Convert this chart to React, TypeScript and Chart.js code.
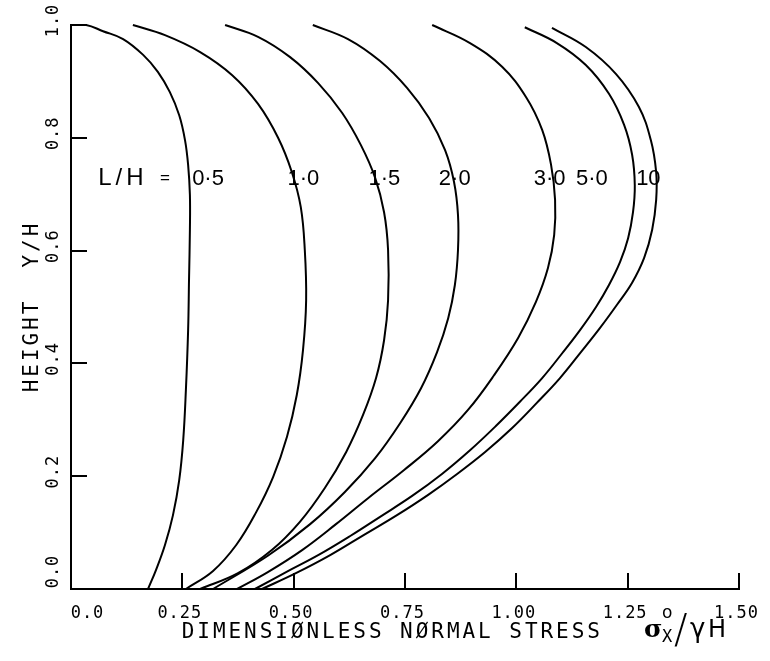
import { useEffect, useRef } from "react";
import { Chart, registerables } from "chart.js";

Chart.register(...registerables);

type Pt = [number, number];

// Each curve: [normal stress σx°/γH, height Y/H] for one length ratio L/H
const lh05: Pt[] = [
  [0.000, 1.000], [0.034, 1.000], [0.072, 0.989], [0.117, 0.975], [0.162, 0.947],
  [0.195, 0.917], [0.222, 0.881], [0.243, 0.840], [0.256, 0.796], [0.263, 0.752],
  [0.267, 0.699], [0.267, 0.637], [0.265, 0.548], [0.263, 0.459], [0.258, 0.353],
  [0.252, 0.264], [0.243, 0.193], [0.229, 0.131], [0.211, 0.078], [0.191, 0.034],
  [0.173, 0.000],
];
const lh10: Pt[] = [
  [0.139, 1.000], [0.211, 0.982], [0.290, 0.952], [0.362, 0.911], [0.420, 0.860],
  [0.465, 0.800], [0.496, 0.739], [0.516, 0.677], [0.525, 0.601], [0.528, 0.512],
  [0.521, 0.424], [0.507, 0.344], [0.485, 0.270], [0.454, 0.199], [0.415, 0.135],
  [0.371, 0.078], [0.319, 0.032], [0.258, 0.000],
];
const lh15: Pt[] = [
  [0.346, 1.000], [0.420, 0.979], [0.492, 0.943], [0.555, 0.897], [0.609, 0.844],
  [0.651, 0.787], [0.683, 0.729], [0.703, 0.668], [0.712, 0.601], [0.712, 0.512],
  [0.703, 0.441], [0.685, 0.374], [0.656, 0.309], [0.618, 0.243], [0.570, 0.179],
  [0.514, 0.119], [0.451, 0.069], [0.375, 0.028], [0.290, 0.000],
];
const lh20: Pt[] = [
  [0.543, 1.000], [0.622, 0.975], [0.694, 0.936], [0.755, 0.888], [0.804, 0.835],
  [0.840, 0.778], [0.860, 0.722], [0.869, 0.663], [0.869, 0.601], [0.862, 0.539],
  [0.847, 0.480], [0.822, 0.420], [0.786, 0.356], [0.739, 0.294], [0.683, 0.232],
  [0.615, 0.172], [0.537, 0.115], [0.442, 0.059], [0.319, 0.000],
];
const lh30: Pt[] = [
  [0.811, 1.000], [0.896, 0.968], [0.968, 0.926], [1.022, 0.872], [1.058, 0.814],
  [1.078, 0.752], [1.087, 0.690], [1.085, 0.628], [1.071, 0.569], [1.044, 0.509],
  [1.004, 0.445], [0.950, 0.379], [0.891, 0.317], [0.824, 0.262], [0.748, 0.211],
  [0.667, 0.161], [0.595, 0.115], [0.519, 0.069], [0.442, 0.030], [0.373, 0.000],
];
const lh50: Pt[] = [
  [1.019, 0.996], [1.091, 0.968], [1.156, 0.929], [1.208, 0.878], [1.242, 0.823],
  [1.260, 0.770], [1.266, 0.716], [1.262, 0.668], [1.251, 0.622], [1.233, 0.580],
  [1.208, 0.539], [1.179, 0.500], [1.143, 0.459], [1.103, 0.418], [1.058, 0.374],
  [1.008, 0.332], [0.954, 0.289], [0.896, 0.246], [0.833, 0.204], [0.766, 0.165],
  [0.694, 0.128], [0.627, 0.094], [0.555, 0.060], [0.483, 0.030], [0.413, 0.000],
];
const lh100: Pt[] = [
  [1.080, 0.995], [1.156, 0.961], [1.224, 0.913], [1.275, 0.855], [1.302, 0.796],
  [1.314, 0.739], [1.314, 0.690], [1.305, 0.637], [1.287, 0.587], [1.260, 0.543],
  [1.226, 0.504], [1.188, 0.463], [1.145, 0.420], [1.098, 0.374], [1.046, 0.330],
  [0.990, 0.285], [0.930, 0.243], [0.867, 0.204], [0.802, 0.167], [0.732, 0.131],
  [0.658, 0.096], [0.582, 0.060], [0.505, 0.028], [0.429, 0.000],
];

const curves = [lh05, lh10, lh15, lh20, lh30, lh50, lh100];
const ratioNames = ["0·5", "1·0", "1·5", "2·0", "3·0", "5·0", "10"];
// left edge of each ratio name (stress) and the height they share
const ratioLabelStress = [0.272, 0.486, 0.668, 0.826, 1.039, 1.134, 1.269];
const ratioLabelHeight = 0.716;
const ratioHeadStress = 0.061;
const ratioEqualsStress = 0.2;

const stressTicks = [0, 0.25, 0.5, 0.75, 1.0, 1.25, 1.5];
const stressTickText = ["0.0", "0.25", "0.50", "0.75", "1.00", "1.25", "1.50"];
const heightTicks = [0, 0.2, 0.4, 0.6, 0.8, 1.0];
const heightTickText = ["0.0", "0.2", "0.4", "0.6", "0.8", "1.0"];

const xTitle = "DIMENSIØNLESS NØRMAL STRESS";
const yTitle = "HEIGHT  Y/H";

const MONO = '"DejaVu Sans Mono", monospace';
const SANS = '"Liberation Sans", Arial, sans-serif';

// draws a string one glyph at a time on a fixed pitch, centred on cx
function pitched(ctx: CanvasRenderingContext2D, text: string, cx: number, y: number, pitch: number) {
  const n = text.length;
  ctx.textAlign = "center";
  for (let i = 0; i < n; i++) {
    ctx.fillText(text[i], cx + (i - (n - 1) / 2) * pitch, y);
  }
}

const plotterAxes = {
  id: "plotterAxes",
  afterDraw(chart: any) {
    const { ctx, chartArea } = chart;
    const xs = chart.scales.x;
    const ys = chart.scales.y;
    const tick = 16;
    ctx.save();
    ctx.strokeStyle = "#000";
    ctx.fillStyle = "#000";
    ctx.lineWidth = 2;

    // tick marks pointing into the plot
    stressTicks.forEach((v) => {
      if (v === 0) return;
      const px = Math.round(xs.getPixelForValue(v));
      ctx.beginPath();
      ctx.moveTo(px, chartArea.bottom);
      ctx.lineTo(px, chartArea.bottom - tick);
      ctx.stroke();
    });
    heightTicks.forEach((v) => {
      if (v === 0) return;
      const py = Math.round(ys.getPixelForValue(v));
      ctx.beginPath();
      ctx.moveTo(chartArea.left, py);
      ctx.lineTo(chartArea.left + tick, py);
      ctx.stroke();
    });

    // x tick labels
    ctx.textBaseline = "alphabetic";
    ctx.font = `17px ${MONO}`;
    const lPitch = 11.2;
    stressTicks.forEach((v, i) => {
      const t = stressTickText[i];
      const cx = v === 0 ? chartArea.left + 16 : xs.getPixelForValue(v) - 3;
      pitched(ctx, t, cx, chartArea.bottom + 29, lPitch);
    });

    // y tick labels, reading upward
    heightTicks.forEach((v, i) => {
      const t = heightTickText[i];
      const cy = v === 0 ? chartArea.bottom - 17 : ys.getPixelForValue(v) - 4;
      ctx.save();
      ctx.translate(chartArea.left - 13, cy);
      ctx.rotate(-Math.PI / 2);
      pitched(ctx, t, 0, 0, lPitch);
      ctx.restore();
    });

    // axis titles
    ctx.font = `21px ${MONO}`;
    const tPitch = 15.6;
    const xTitleLeft = 182;
    pitched(ctx, xTitle, xTitleLeft + 6 + ((xTitle.length - 1) / 2) * tPitch, chartArea.bottom + 49, tPitch);

    ctx.save();
    ctx.translate(chartArea.left - 33, 308);
    ctx.rotate(-Math.PI / 2);
    pitched(ctx, yTitle, 0, 0, tPitch);
    ctx.restore();

    // σx°/γH
    ctx.textAlign = "left";
    const base = chartArea.bottom + 48;
    ctx.font = `bold 25px "DejaVu Serif", serif`;
    ctx.fillText("σ", 644, base);
    ctx.font = `17px ${MONO}`;
    ctx.fillText("X", 662, base + 5);
    ctx.font = `17px "DejaVu Sans", sans-serif`;
    ctx.fillText("o", 662, base - 19);
    ctx.font = `200 40px "DejaVu Sans", sans-serif`;
    ctx.fillText("/", 674, base + 6);
    ctx.font = `26px "DejaVu Sans", sans-serif`;
    ctx.fillText("γ", 690, base);
    ctx.font = `24px "DejaVu Sans", sans-serif`;
    ctx.fillText("H", 708, base);

    // L/H ratio labels
    const ly = ys.getPixelForValue(ratioLabelHeight);
    ctx.font = `24px ${SANS}`;
    (ctx as any).letterSpacing = "4px";
    ctx.fillText("L/H", xs.getPixelForValue(ratioHeadStress), ly);
    (ctx as any).letterSpacing = "0px";
    ctx.font = `17px ${SANS}`;
    ctx.fillText("=", xs.getPixelForValue(ratioEqualsStress), ly - 2);
    ctx.font = `22px ${SANS}`;
    ratioNames.forEach((name, i) => {
      ctx.fillText(name, xs.getPixelForValue(ratioLabelStress[i]), ly);
    });

    ctx.restore();
  },
};

export default function App() {
  const canvasRef = useRef<HTMLCanvasElement | null>(null);

  useEffect(() => {
    const canvas = canvasRef.current;
    if (!canvas) return;
    const chart = new Chart(canvas, {
      type: "scatter",
      data: {
        datasets: curves.map((pts, i) => ({
          label: `L/H = ${ratioNames[i]}`,
          data: pts.map(([x, y]) => ({ x, y })),
          showLine: true,
          borderColor: "#000",
          borderWidth: 2,
          pointRadius: 0,
          tension: 0.4,
          fill: false,
          clip: false as any,
        })),
      },
      options: {
        animation: false,
        responsive: false,
        devicePixelRatio: 1,
        layout: { padding: { left: 71, right: 31, top: 25, bottom: 72 } },
        plugins: {
          legend: { display: false },
          tooltip: { enabled: false },
        },
        scales: {
          x: {
            type: "linear",
            min: 0,
            max: 1.5,
            grid: { display: false, drawTicks: false },
            ticks: { display: false },
            border: { display: true, color: "#000", width: 2 },
          },
          y: {
            type: "linear",
            min: 0,
            max: 1,
            grid: { display: false, drawTicks: false },
            ticks: { display: false },
            border: { display: true, color: "#000", width: 2 },
          },
        },
      },
      plugins: [plotterAxes],
    });
    return () => chart.destroy();
  }, []);

  return (
    <div style={{ position: "fixed", left: 0, top: 0, width: 770, height: 661, background: "#fff" }}>
      <canvas ref={canvasRef} width={770} height={661} style={{ width: 770, height: 661, display: "block" }} />
    </div>
  );
}
